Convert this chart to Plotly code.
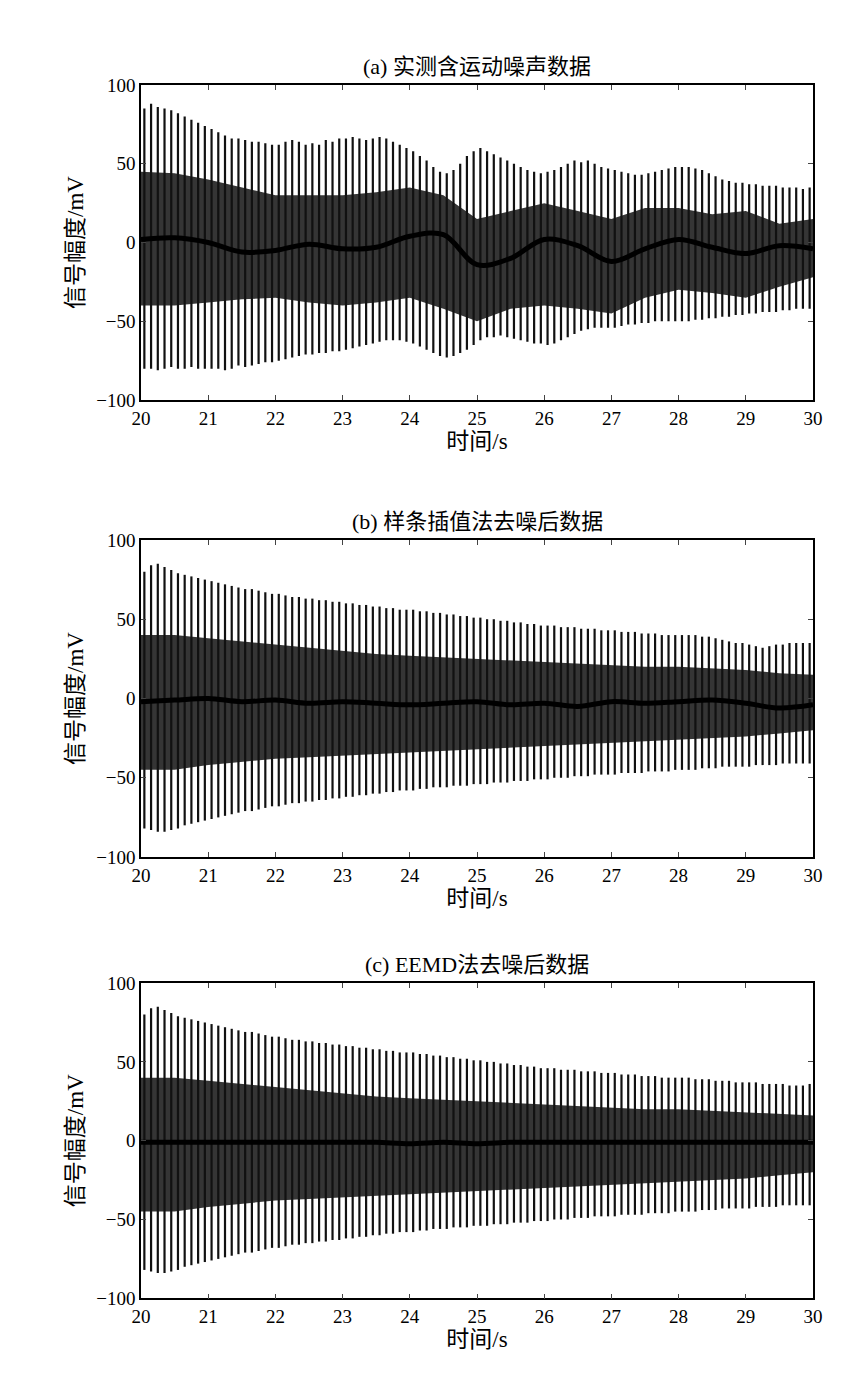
import plotly.graph_objects as go
from plotly.subplots import make_subplots

# per-cycle spike peaks, 10 cycles per second, 20 s .. 30 s
t_cyc = [20.05 + i * 0.1 for i in range(100)]

a_up = [85,88,86,85,84,82,80,78,76,74, 72,70,68,66,66,65,64,64,63,62,
        62,64,65,64,62,63,62,65,64,66, 66,67,66,65,66,67,66,64,62,60,
        58,55,52,48,45,44,46,50,55,58, 60,58,56,54,52,50,48,46,45,44,
        45,46,48,50,52,51,52,50,48,47, 46,45,44,43,43,44,45,46,47,48,
        48,48,47,46,44,42,40,39,38,38, 37,37,36,36,36,35,35,35,34,35]
a_lo = [-80,-80,-81,-80,-79,-80,-80,-79,-80,-80, -80,-80,-81,-80,-78,-79,-78,-77,-76,-76,
        -75,-74,-73,-72,-71,-71,-70,-70,-69,-69, -68,-67,-66,-65,-64,-63,-62,-62,-62,-63,
        -64,-66,-68,-70,-72,-73,-72,-70,-68,-65, -62,-60,-60,-59,-60,-61,-62,-63,-64,-64,
        -65,-64,-62,-60,-58,-56,-55,-54,-54,-54, -54,-53,-52,-52,-51,-51,-50,-50,-50,-50,
        -50,-50,-49,-49,-48,-48,-47,-47,-46,-46, -45,-45,-44,-44,-44,-43,-43,-42,-42,-42]

b_up = [80,84,85,83,81,79,78,77,76,75, 74,73,72,71,70,69,69,68,67,66,
        66,65,64,64,63,63,62,62,61,61, 60,60,59,59,58,58,57,57,56,56,
        56,55,55,54,54,53,53,52,52,51, 51,50,50,49,49,48,48,47,47,46,
        46,46,45,45,45,44,44,44,43,43, 43,42,42,42,41,41,41,40,40,40,
        40,40,40,39,39,38,37,36,35,35, 34,33,32,33,34,34,35,35,35,35]
b_lo = [-82,-83,-84,-84,-83,-82,-80,-79,-78,-77, -76,-75,-74,-73,-72,-71,-71,-70,-69,-68,
        -68,-67,-66,-66,-65,-65,-64,-64,-63,-63, -62,-62,-61,-61,-60,-60,-59,-59,-58,-58,
        -58,-57,-57,-56,-56,-56,-55,-55,-55,-54, -54,-54,-53,-53,-53,-52,-52,-52,-51,-51,
        -51,-50,-50,-50,-49,-49,-49,-48,-48,-48, -48,-47,-47,-47,-47,-46,-46,-46,-46,-45,
        -45,-45,-45,-44,-44,-44,-43,-43,-43,-43, -43,-42,-42,-42,-42,-41,-41,-41,-41,-41]

c_up = [80,84,85,83,81,79,78,77,76,75, 74,73,72,71,70,69,69,68,67,66,
        66,65,64,64,63,63,62,62,61,61, 60,60,59,59,58,58,57,57,56,56,
        56,55,55,54,54,53,53,52,52,51, 51,50,50,49,49,48,48,47,47,46,
        46,46,45,45,45,44,44,44,43,43, 43,42,42,42,41,41,41,40,40,40,
        40,40,39,39,39,38,38,38,37,37, 37,37,36,36,36,36,35,35,35,36]
c_lo = [-82,-83,-84,-84,-83,-82,-80,-79,-78,-77, -76,-75,-74,-73,-72,-71,-71,-70,-69,-68,
        -68,-67,-66,-66,-65,-65,-64,-64,-63,-63, -62,-62,-61,-61,-60,-60,-59,-59,-58,-58,
        -58,-57,-57,-56,-56,-56,-55,-55,-55,-54, -54,-54,-53,-53,-53,-52,-52,-52,-51,-51,
        -51,-50,-50,-50,-49,-49,-49,-48,-48,-48, -48,-47,-47,-47,-47,-46,-46,-46,-46,-45,
        -45,-45,-45,-44,-44,-44,-43,-43,-43,-43, -43,-42,-42,-42,-42,-41,-41,-41,-41,-41]

# dense inner band and baseline, read every 0.5 s
t_half = [20 + i * 0.5 for i in range(21)]
a_band_up = [45,44,40,35,30,30,30,32,35,30,15,20,25,20,15,22,22,18,20,12,15]
a_band_lo = [-40,-40,-38,-36,-35,-38,-40,-38,-35,-42,-50,-42,-40,-42,-45,-35,-30,-32,-35,-28,-22]
a_base = [2,3,0,-6,-5,-1,-4,-3,4,5,-14,-10,2,-2,-12,-4,2,-3,-7,-2,-4]
b_band_up = [40,40,38,36,34,32,30,28,27,26,25,24,23,22,21,20,20,19,18,16,15]
b_band_lo = [-45,-45,-42,-40,-38,-37,-36,-35,-34,-33,-32,-31,-30,-29,-28,-27,-26,-25,-24,-22,-20]
b_base = [-2,-1,0,-2,-1,-3,-2,-3,-4,-3,-2,-4,-3,-5,-2,-3,-2,-1,-3,-6,-4]
c_band_up = [40,40,38,36,34,32,30,28,27,26,25,24,23,22,21,20,20,19,18,17,16]
c_band_lo = [-45,-45,-42,-40,-38,-37,-36,-35,-34,-33,-32,-31,-30,-29,-28,-27,-26,-25,-24,-22,-20]
c_base = [-1,-1,-1,-1,-1,-1,-1,-1,-2,-1,-2,-1,-1,-1,-1,-1,-1,-1,-1,-1,-1]

titles = ["(a) 实测含运动噪声数据", "(b) 样条插值法去噪后数据", "(c) EEMD法去噪后数据"]
panels = [(a_up, a_lo, a_band_up, a_band_lo, a_base),
          (b_up, b_lo, b_band_up, b_band_lo, b_base),
          (c_up, c_lo, c_band_up, c_band_lo, c_base)]
domains = [[0.7192, 0.9508], [0.3835, 0.6165], [0.0593, 0.2909]]

fig = make_subplots(rows=3, cols=1)
font = "Liberation Serif, Noto Sans CJK SC"

for r, (up, lo, bu, bl, base) in enumerate(panels, start=1):
    fig.add_trace(go.Scatter(x=t_half, y=bl, mode="lines", line=dict(width=0, color="#333"),
                             showlegend=False), row=r, col=1)
    fig.add_trace(go.Scatter(x=t_half, y=bu, mode="lines", line=dict(width=0, color="#333"),
                             fill="tonexty", fillcolor="#353535", showlegend=False), row=r, col=1)
    xs, ys = [], []
    for t, u, l in zip(t_cyc, up, lo):
        xs += [t, t, None]
        ys += [l, u, None]
    fig.add_trace(go.Scatter(x=xs, y=ys, mode="lines", line=dict(width=2.2, color="#111"),
                             showlegend=False), row=r, col=1)
    fig.add_trace(go.Scatter(x=t_half, y=base, mode="lines", line=dict(width=5, color="black", shape="spline"),
                             showlegend=False), row=r, col=1)
    fig.update_xaxes(range=[20, 30], dtick=1, ticks="inside", ticklen=5, mirror="ticks",
                     showline=True, linecolor="black", linewidth=1.5, showgrid=False,
                     zeroline=False, title_text="时间/s", title_standoff=4, row=r, col=1)
    fig.update_yaxes(range=[-100, 100], dtick=50, ticks="inside", ticklen=5, mirror="ticks",
                     showline=True, linecolor="black", linewidth=1.5, showgrid=False,
                     zeroline=False, title_text="信号幅度/mV", title_standoff=6,
                     domain=domains[r - 1], row=r, col=1)

for i, title in enumerate(titles):
    fig.add_annotation(text=title, x=0.5, xref="paper", y=domains[i][1], yref="paper",
                       yanchor="bottom", yshift=4, showarrow=False, font=dict(size=22, color="black"))

fig.update_layout(width=850, height=1382, plot_bgcolor="white", paper_bgcolor="white",
                  margin=dict(l=133, r=45, t=0, b=0),
                  font=dict(family=font, size=19, color="black"))
fig.write_html("out.html")
